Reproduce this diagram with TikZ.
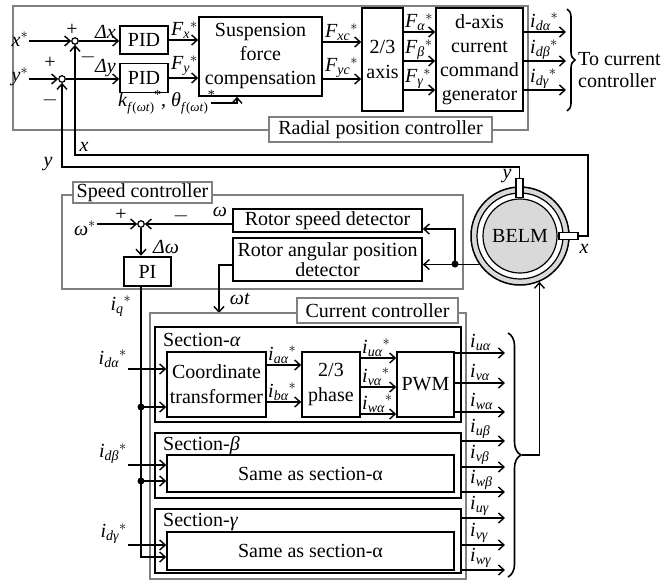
\documentclass[tikz,border=0pt]{standalone}
\usepackage{amsmath}
\usepackage{fontspec}
\setmainfont{Liberation Serif}
\usetikzlibrary{arrows.meta,decorations.pathreplacing}
\newcommand\vi[1]{\textit{#1}}
\newcommand\vsubs[2]{${\vi{#1}_{\vi{#2}}}^{*}$}
\newcommand\vsub[2]{$\vi{#1}_{\vi{#2}}$}
\newcommand\kfsub{\raisebox{-5pt}{\fontsize{13}{13}\selectfont\textit{f}(\textit{ωt})}}
\newcommand\kfstar{\raisebox{7pt}{\fontsize{14}{14}\selectfont *}}
\begin{document}
\begin{tikzpicture}[x=1pt,y=-1pt,
  font=\fontsize{20}{24}\selectfont,
  line width=1.4pt,
  >={Straight Barb[length=5.5pt,width=10pt,line width=1.4pt]},
  blk/.style={draw, line width=1.6pt, fill=white, inner sep=0pt, align=center},
  sec/.style={draw, line width=2.6pt, inner sep=0pt},
  grp/.style={draw=gray, line width=1.2pt},
  glab/.style={draw=gray, line width=1.2pt, fill=white, inner sep=0pt},
  lab/.style={inner sep=0.5pt},
  sj/.style={circle, draw, line width=1.2pt, minimum size=6.5pt, inner sep=0pt, fill=white},
  dotn/.style={circle, fill, minimum size=7pt, inner sep=0pt},
  brc/.style={decorate, line width=1.6pt}
]
\useasboundingbox (0,0) rectangle (664,584);

% ---------------- radial position controller
\draw[grp] (13,6) rectangle (528,130);
\node[glab, minimum width=223pt, minimum height=25pt] (rpc) at (380.5,129.5) {Radial position controller};

\node[sj] (sx) at (75,41) {};
\node[sj] (sy) at (62,79) {};
\node[lab] (xs) at (20,39) {$\vi{x}^{*}$};
\node[lab] (ys) at (20,77) {$\vi{y}^{*}$};
\draw[->] (xs.east |- sx) -- (sx.west);
\draw[->] (ys.east |- sy) -- (sy.west);
\node[lab] (px) at (72,30) {+};
\node[lab] (mx) at (88,57) {$-$};
\node[lab] (py) at (50,63) {+};
\node[lab] (my) at (50,100) {$-$};

\node[blk, minimum width=48pt, minimum height=28pt] (pid1) at (144,40) {PID};
\node[blk, minimum width=48pt, minimum height=29pt] (pid2) at (144,78) {PID};
\draw[->] (sx.east) -- (pid1.west |- sx);
\draw[->] (sy.east) -- (pid2.west |- sy);
\node[lab, anchor=south west] (ldx) at (94,40) {\vi{Δx}};
\node[lab, anchor=south west] (ldy) at (94,78) {\vi{Δy}};

\node[blk, minimum width=123pt, minimum height=79pt] (susp) at (260.5,56.5) {Suspension\\force\\compensation};
\draw[->] (pid1.east) -- (susp.west |- pid1.east);
\draw[->] (pid2.east) -- (susp.west |- pid2.east);
\node[lab, anchor=south west] (lfx) at (170,40) {\vsubs{F}{x}};
\node[lab, anchor=south west] (lfy) at (170,77) {\vsubs{F}{y}};

\node[lab, anchor=base west] (kth) at (117,106) {\textit{k}\kfsub\kfstar, \textit{θ}\kfsub\kfstar};
\coordinate (kout) at (211,103);
\draw[->] (kout) -| (susp.south -| 237,0);

\node[blk, minimum width=41pt, minimum height=103pt, font=\fontsize{20}{25}\selectfont] (ax) at (382.5,59.5) {2/3\\axis};
\draw[->] (susp.east |- 0,42) -- (ax.west |- 0,42);
\draw[->] (susp.east |- 0,79) -- (ax.west |- 0,79);
\node[lab, anchor=south west] (lfxc) at (324,42) {\vsubs{F}{xc}};
\node[lab, anchor=south west] (lfyc) at (324,79) {\vsubs{F}{yc}};

\node[blk, minimum width=87pt, minimum height=103pt] (dgen) at (479.5,59.5) {d-axis\\current\\command\\generator};
\draw[->] (ax.east |- 0,32) -- (dgen.west |- 0,32);
\draw[->] (ax.east |- 0,61) -- (dgen.west |- 0,61);
\draw[->] (ax.east |- 0,90) -- (dgen.west |- 0,90);
\node[lab, anchor=south west] (lfa) at (404,32) {\vsubs{F}{α}};
\node[lab, anchor=south west] (lfb) at (404,61) {\vsubs{F}{β}};
\node[lab, anchor=south west] (lfg) at (404,90) {\vsubs{F}{γ}};

\coordinate (o1) at (566,32);
\coordinate (o2) at (566,61);
\coordinate (o3) at (566,90);
\draw[->] (dgen.east |- o1) -- (o1);
\draw[->] (dgen.east |- o2) -- (o2);
\draw[->] (dgen.east |- o3) -- (o3);
\node[lab, anchor=south west] (lida) at (529,32) {\vsubs{i}{dα}};
\node[lab, anchor=south west] (lidb) at (529,61) {\vsubs{i}{dβ}};
\node[lab, anchor=south west] (lidg) at (529,90) {\vsubs{i}{dγ}};
\draw[brc, decoration={brace, amplitude=8pt}] (567,9) -- (567,111);
\node[lab, anchor=west, align=left, font=\fontsize{20}{22}\selectfont] (tcc) at (577,70) {To current\\controller};

% ---------------- BELM
\node[circle, draw, line width=1.5pt, fill=gray!30, minimum size=98pt, inner sep=0pt] (belm) at (520,236) {};
\draw[line width=1.2pt, fill=white] (belm.center) circle[radius=43];
\draw[line width=1.2pt, fill=gray!30] (belm.center) circle[radius=37];
\node (belmt) at (belm.center) {BELM};
\node[draw, fill=white, line width=1.3pt, minimum width=7pt, minimum height=19pt, inner sep=0pt] (sensy) at (519.5,188) {};
\node[draw, fill=white, line width=1.3pt, minimum width=19pt, minimum height=7pt, inner sep=0pt] (sensx) at (568.5,236) {};
\node[lab] (ly2) at (507,176) {\vi{y}};
\node[lab] (lx2) at (584,249) {\vi{x}};

\draw[->] (sensx.east) -| (588,155) -| (sx.south);
\draw[->] (sensy.north) |- (62,167) -| (sy.south);
\node[lab] (lx) at (84,147) {\vi{x}};
\node[lab] (ly) at (48,164) {\vi{y}};

% ---------------- speed controller
\draw[grp] (62,195) rectangle (463,289);
\node[glab, minimum width=139pt, minimum height=21pt] (spc) at (142.5,192.5) {Speed controller};
\node[sj] (sw) at (141,224) {};
\node[lab] (ws) at (85,228) {$\vi{ω}^{*}$};
\draw[->] (ws.east |- sw) -- (sw.west);
\node[lab] (pw) at (121,215) {+};
\node[lab] (mw) at (181,216) {$-$};
\node[lab] (lw) at (220,212) {\vi{ω}};
\node[blk, minimum width=189pt, minimum height=23pt] (rsd) at (327.5,220.5) {Rotor speed detector};
\node[blk, minimum width=189pt, minimum height=43pt, font=\fontsize{20}{20}\selectfont] (rapd) at (327.5,259.5) {Rotor angular position\\detector};
\draw[->] (rsd.west |- sw) -- (sw.east);
\node[blk, line width=2.6pt, minimum width=47pt, minimum height=29pt] (pi) at (147.5,271.5) {PI};
\draw[->] (sw.south) -- (sw |- pi.north);
\node[lab] (ldw) at (166,247) {\vi{Δω}};

\node[dotn] (dj) at (455,264) {};
\draw[->] (belm.215) -- (rapd.east |- belm.215);
\draw[->] (dj.center) |- (rsd.east |- 0,229);
\draw[->] (rapd.west |- 0,265) -| (219,313);
\node[lab] (lwt) at (240,299) {\vi{ωt}};

% ---------------- current controller
\draw[grp] (150,313) rectangle (466,579);
\node[glab, minimum width=161pt, minimum height=25pt] (ccl) at (377.5,310.5) {Current controller};

\node[sec, minimum width=306pt, minimum height=95pt] (seca) at (308,374.5) {};
\node[sec, minimum width=306pt, minimum height=65pt] (secb) at (308,465.5) {};
\node[sec, minimum width=306pt, minimum height=64pt] (secg) at (308,541) {};
\node[lab, anchor=west] (lsa) at (162,340) {Section-\vi{α}};
\node[lab, anchor=west] (lsb) at (162,446) {Section-\vi{β}};
\node[lab, anchor=west] (lsg) at (162,522) {Section-\vi{γ}};

\node[blk, minimum width=99pt, minimum height=65pt, font=\fontsize{20}{25}\selectfont] (ct) at (216.5,384.5) {Coordinate\\transformer};
\node[blk, minimum width=58pt, minimum height=65pt, font=\fontsize{20}{25}\selectfont] (ph) at (331,384.5) {2/3\\phase};
\node[blk, minimum width=57pt, minimum height=65pt] (pwm) at (425.5,384.5) {PWM};
\node[blk, minimum width=287pt, minimum height=37pt] (sameb) at (310.5,473.5) {Same as section-α};
\node[blk, minimum width=287pt, minimum height=38pt] (sameg) at (310.5,551) {Same as section-α};

\draw[->] (ct.east |- 0,365) -- (ph.west |- 0,365);
\draw[->] (ct.east |- 0,402) -- (ph.west |- 0,402);
\node[lab, anchor=south west] (liaa) at (267,365) {\vsubs{i}{aα}};
\node[lab, anchor=south west] (liba) at (267,402) {\vsubs{i}{bα}};
\draw[->] (ph.east |- 0,358) -- (pwm.west |- 0,358);
\draw[->] (ph.east |- 0,387) -- (pwm.west |- 0,387);
\draw[->] (ph.east |- 0,414) -- (pwm.west |- 0,414);
\node[lab, anchor=south west] (liua) at (361,358) {\vsubs{i}{uα}};
\node[lab, anchor=south west] (liva) at (361,387) {\vsubs{i}{vα}};
\node[lab, anchor=south west] (liwa) at (361,414) {\vsubs{i}{wα}};

% inputs
\node[lab, anchor=south east] (lida2) at (128,369) {\vsubs{i}{dα}};
\node[lab, anchor=south east] (lidb2) at (128,465) {\vsubs{i}{dβ}};
\node[lab, anchor=south east] (lidg2) at (128,545) {\vsubs{i}{dγ}};
\draw[->] (lida2.south east |- 0,369) -- (ct.west |- 0,369);
\draw[->] (lidb2.south east |- 0,465) -- (sameb.west |- 0,465);
\draw[->] (lidg2.south east |- 0,545) -- (sameg.west |- 0,545);
\node[lab] (liq) at (121,306) {\vsubs{i}{q}};
\draw[->] (sw |- pi.south) |- (sameg.west |- 0,557);
\node[dotn] (d1) at (141,407) {};
\node[dotn] (d2) at (141,481) {};
\draw[->] (d1.center) -- (ct.west |- d1);
\draw[->] (d2.center) -- (sameb.west |- d2);

% outputs
\coordinate (u1) at (505,353);
\coordinate (u2) at (505,383);
\coordinate (u3) at (505,412);
\coordinate (u4) at (505,441);
\coordinate (u5) at (505,467);
\coordinate (u6) at (505,492);
\coordinate (u7) at (505,518);
\coordinate (u8) at (505,545);
\coordinate (u9) at (505,570);
\draw[->] (pwm.east |- u1) -- (u1);
\draw[->] (pwm.east |- u2) -- (u2);
\draw[->] (pwm.east |- u3) -- (u3);
\draw[->] (secb.east |- u4) -- (u4);
\draw[->] (secb.east |- u5) -- (u5);
\draw[->] (secb.east |- u6) -- (u6);
\draw[->] (secg.east |- u7) -- (u7);
\draw[->] (secg.east |- u8) -- (u8);
\draw[->] (secg.east |- u9) -- (u9);
\node[lab, anchor=south west] (lu1) at (469,352) {\vsub{i}{uα}};
\node[lab, anchor=south west] (lu2) at (469,382) {\vsub{i}{vα}};
\node[lab, anchor=south west] (lu3) at (469,411) {\vsub{i}{wα}};
\node[lab, anchor=south west] (lu4) at (469,440) {\vsub{i}{uβ}};
\node[lab, anchor=south west] (lu5) at (469,466) {\vsub{i}{vβ}};
\node[lab, anchor=south west] (lu6) at (469,491) {\vsub{i}{wβ}};
\node[lab, anchor=south west] (lu7) at (469,517) {\vsub{i}{uγ}};
\node[lab, anchor=south west] (lu8) at (469,544) {\vsub{i}{vγ}};
\node[lab, anchor=south west] (lu9) at (469,569) {\vsub{i}{wγ}};

\draw[brc, decoration={brace, amplitude=13pt}] (508,333) -- (508,577);
\coordinate (btip) at (522,455);
\draw[->] (btip) -| (belm.293);
\end{tikzpicture}
\end{document}
